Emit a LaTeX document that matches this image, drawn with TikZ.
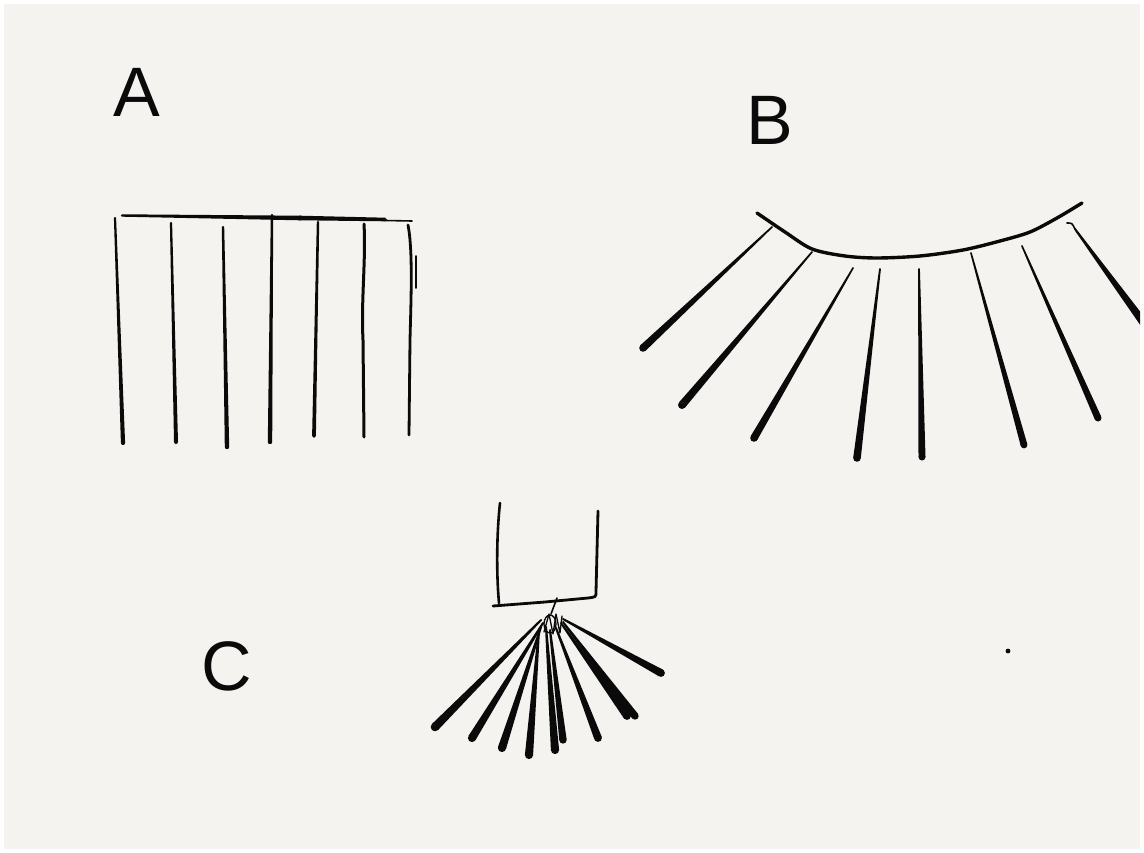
\documentclass[tikz,border=0pt]{standalone}
\usepackage{fontspec}
\setmainfont{Liberation Sans}
\usetikzlibrary{calc}
\definecolor{paper}{HTML}{F4F3EF}
\definecolor{ink}{HTML}{0A0A0A}
% tapered stroke: start point, end point, start radius, end radius
\newcommand\tp[4]{%
 \fill[ink] let \p1=(#1), \p2=(#2), \n1={atan2(\y2-\y1,\x2-\x1)} in
 ($(\p1)+(\n1+90:#3)$) -- ($(\p2)+(\n1+90:#4)$) -- ($(\p2)+(\n1-90:#4)$) -- ($(\p1)+(\n1-90:#3)$) -- cycle;
 \fill[ink] (#1) circle[radius=#3];
 \fill[ink] (#2) circle[radius=#4];}
\begin{document}
\begin{tikzpicture}[x=1pt,y=-1pt,
  pen/.style={draw=ink,line width=#1,line cap=round,line join=round},
  pen/.default=3pt,
  lab/.style={text=ink,font=\fontsize{70}{70}\selectfont,inner sep=0pt}]
\useasboundingbox (0,0) rectangle (1144,853);
\fill[white] (0,0) rectangle (1144,853);
\fill[paper] (4,4) rectangle (1140,849);
\begin{scope}
\clip (4,4) rectangle (1140,849);
% labels
\node[lab] (labA) at (137,92) {A};
\node[lab] (labB) at (770,120) {B};
\node[lab] (labC) at (227,666) {C};
% ---------- A ----------
\tp{122,215.5}{300,218}{1.2pt}{2.3pt}
\tp{300,218}{385,219.5}{2.3pt}{1.8pt}
\draw[pen=1.6pt] (385,220.5) -- (412,221);
\tp{115,218}{123,443}{1.1pt}{2.1pt}
\tp{171,223}{176,442}{1.1pt}{2.0pt}
\tp{223,227}{227,447}{1.2pt}{2.2pt}
\tp{272,215}{270,442}{1.2pt}{2.2pt}
\tp{318,222}{314,436}{1.2pt}{1.9pt}
\draw[pen=3pt] (364,224) .. controls (366,260) and (361,300) .. (363,340) -- (364,437);
\draw[pen=2.8pt] (408,225) .. controls (413,250) and (411,300) .. (410,340) -- (409,435);
\draw[pen=1.6pt] (416,256) -- (416,288);
% ---------- B ----------
\draw[pen=3.4pt] plot[smooth] coordinates {(757,213) (785,232) (812,249) (845,256) (877,258) (920,256) (963,250) (1000,241) (1030,232) (1057,218) (1082,203)};
\tp{772,227}{643,348}{0.8pt}{3.8pt}
\tp{812,252}{682,405}{0.8pt}{4.0pt}
\tp{853,268}{754,438}{0.8pt}{3.8pt}
\tp{880,269}{857,458}{0.9pt}{3.8pt}
\tp{919,269}{922,457}{0.9pt}{3.5pt}
\tp{971,253}{1024,445}{0.8pt}{3.4pt}
\tp{1022,246}{1098,418}{0.8pt}{3.5pt}
\draw[pen=1.6pt] (1067,223) .. controls (1072,223) .. (1075,229);
\tp{1075,229}{1146,326}{1.0pt}{4.2pt}
% ---------- C ----------
\draw[pen=2.6pt] (500,503) .. controls (497,530) and (496,570) .. (499,603);
\draw[pen=2.8pt] (598,511) -- (596,592) .. controls (596,597) .. (588,598) -- (545,602) -- (493,606);
\draw[pen=1.6pt] (557,598) -- (551,614);
\draw[pen=1.3pt] (544,632) -- (549,614) -- (553,634) -- (556,614) -- (560,633) -- (562,616);
\draw[pen=1.3pt] (550,624) ellipse[x radius=6pt,y radius=9pt];
\tp{541,620}{435,727}{1.0pt}{4.3pt}
\tp{543,623}{472,738}{1.0pt}{4.1pt}
\tp{541,627}{502,748}{1.0pt}{4.1pt}
\tp{539,630}{529,755}{1.0pt}{4.1pt}
\tp{546,627}{555,750}{1.0pt}{4.1pt}
\tp{550,630}{563,740}{1.0pt}{3.7pt}
\tp{556,628}{598,738}{1.0pt}{3.9pt}
\tp{561,623}{627,716}{1.0pt}{3.9pt}
\tp{563,622}{635,716}{1.0pt}{3.7pt}
\tp{563,619}{661,673}{1.0pt}{3.9pt}
% dot
\fill[ink] (1008,651) circle[radius=2.4pt];
\end{scope}
\end{tikzpicture}
\end{document}
